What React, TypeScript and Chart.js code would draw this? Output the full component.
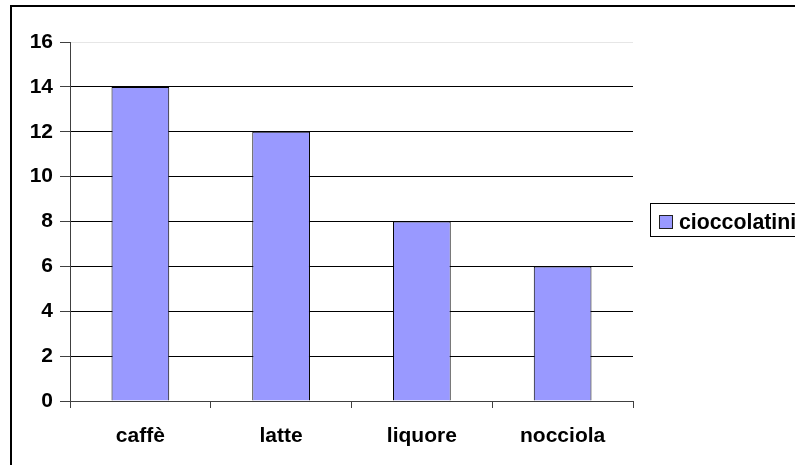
import { useEffect, useRef } from "react";
import { Chart, registerables } from "chart.js";

Chart.register(...registerables);

const categories = ["caffè", "latte", "liquore", "nocciola"];
const seriesLabel = "cioccolatini";
const seriesValues = [14, 12, 8, 6];
const yMin = 0;
const yMax = 16;
const yStep = 2;

const FONT = "'Liberation Sans', Arial, sans-serif";
const BAR_FILL = "#9999FF";

const legendBoxPlugin = {
  id: "legendBox",
  afterDraw(chart: any) {
    const ctx = chart.ctx;
    const ds = chart.data.datasets[0];
    ctx.save();
    ctx.lineWidth = 1;
    ctx.strokeStyle = "#000";
    ctx.strokeRect(650.5, 203.5, 200, 33);
    ctx.fillStyle = ds.backgroundColor;
    ctx.fillRect(659.5, 215.5, 13, 13);
    ctx.strokeStyle = "#222";
    ctx.strokeRect(659.5, 215.5, 13, 13);
    ctx.fillStyle = "#000";
    ctx.font = `bold 21.3px ${FONT}`;
    ctx.textBaseline = "alphabetic";
    ctx.textAlign = "left";
    ctx.fillText(ds.label, 679, 229);
    ctx.restore();
  },
};

export default function App() {
  const ref = useRef<HTMLCanvasElement | null>(null);

  useEffect(() => {
    if (!ref.current) return;
    const chart = new Chart(ref.current, {
      type: "bar",
      data: {
        labels: categories,
        datasets: [
          {
            label: seriesLabel,
            data: seriesValues,
            backgroundColor: BAR_FILL,
            borderColor: "#000",
            borderWidth: 1,
            categoryPercentage: 1,
            barPercentage: 0.41,
          },
        ],
      },
      options: {
        animation: false,
        responsive: false,
        devicePixelRatio: 1,
        layout: { padding: { top: 42, right: 162, left: 0, bottom: 0 } },
        plugins: {
          legend: { display: false },
          tooltip: { enabled: false },
        },
        scales: {
          x: {
            offset: true,
            grid: {
              offset: true,
              drawOnChartArea: false,
              drawTicks: true,
              tickLength: 7,
              tickColor: "#404040",
            },
            border: { color: "#404040", width: 1 },
            ticks: {
              color: "#000",
              font: { family: FONT, size: 21, weight: "bold" },
              padding: 16,
            },
            afterFit(scale: any) {
              scale.height = 64;
            },
          },
          y: {
            min: yMin,
            max: yMax,
            grid: {
              color: (c: any) => (c.tick && c.tick.value === yMax ? "#e6e6e6" : "#000"),
              tickColor: "#404040",
              tickLength: 10,
            },
            border: { color: "#404040", width: 1 },
            ticks: {
              stepSize: yStep,
              color: "#000",
              padding: 7,
              font: { family: FONT, size: 21, weight: "bold" },
            },
            afterFit(scale: any) {
              scale.width = 70;
            },
          },
        },
      },
      plugins: [legendBoxPlugin],
    });
    return () => chart.destroy();
  }, []);

  return (
    <div
      style={{
        position: "fixed",
        left: 0,
        top: 0,
        width: 795,
        height: 465,
        overflow: "hidden",
        background: "#fff",
      }}
    >
      <div
        style={{
          position: "absolute",
          left: 10,
          top: 5,
          width: 820,
          height: 500,
          border: "2px solid #000",
        }}
      />
      <canvas
        ref={ref}
        width={795}
        height={465}
        style={{ position: "absolute", left: 0, top: 0, width: 795, height: 465 }}
      />
    </div>
  );
}
